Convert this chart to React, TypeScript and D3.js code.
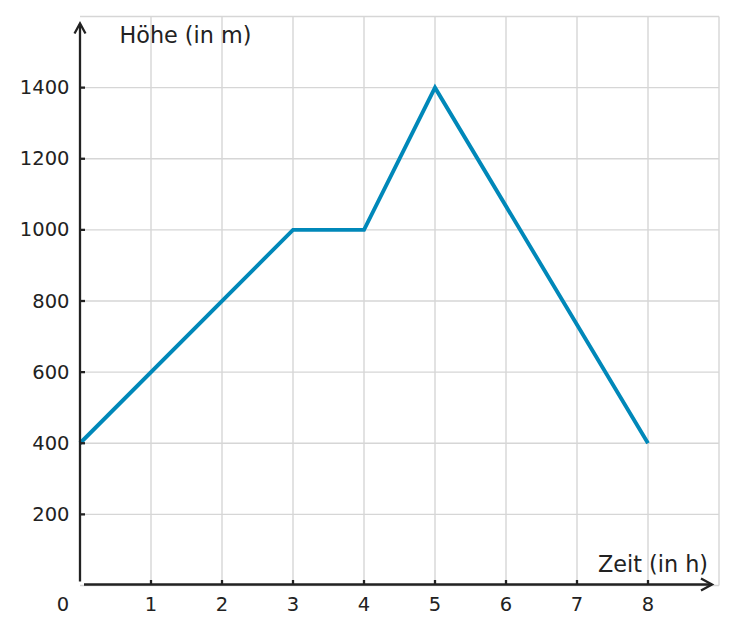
import { useEffect, useRef } from "react";
import * as d3 from "d3";

// Zeit (h) und Höhe (m) der Wanderung
const zeit = [0, 3, 4, 5, 8];
const hoehe = [400, 1000, 1000, 1400, 400];
const xTicks = [1, 2, 3, 4, 5, 6, 7, 8];
const yTicks = [200, 400, 600, 800, 1000, 1200, 1400];
const xGrid = [1, 2, 3, 4, 5, 6, 7, 8, 9];
const yGrid = [0, 200, 400, 600, 800, 1000, 1200, 1400, 1600];

const W = 736;
const H = 633;
const FONT = "DejaVu Sans, sans-serif";
const INK = "#222";

export default function App() {
  const ref = useRef<SVGSVGElement>(null);

  useEffect(() => {
    const svg = d3.select(ref.current);
    if (!svg.node()) return;
    svg.selectAll("*").remove();

    const x = d3.scaleLinear().domain([0, 9]).range([80, 719]);
    const y = d3.scaleLinear().domain([0, 1600]).range([585.5, 16.5]);

    // grid
    const grid = svg.append("g").attr("stroke", "#d6d6d6").attr("stroke-width", 1.4);
    grid
      .selectAll("line.v")
      .data(xGrid)
      .join("line")
      .attr("class", "v")
      .attr("x1", (d) => x(d))
      .attr("x2", (d) => x(d))
      .attr("y1", y(0))
      .attr("y2", y(1600));
    grid
      .selectAll("line.h")
      .data(yGrid)
      .join("line")
      .attr("class", "h")
      .attr("x1", x(0))
      .attr("x2", x(9))
      .attr("y1", (d) => y(d))
      .attr("y2", (d) => y(d));

    // line
    const pts = zeit.map((t, i) => [t, hoehe[i]] as [number, number]);
    svg
      .append("path")
      .datum(pts)
      .attr("fill", "none")
      .attr("stroke", "#0088b9")
      .attr("stroke-width", 3.9)
      .attr("stroke-linejoin", "miter")
      .attr(
        "d",
        d3
          .line<[number, number]>()
          .x((d) => x(d[0]))
          .y((d) => y(d[1])),
      );

    // axes
    const ax = svg.append("g").attr("stroke", INK).attr("stroke-width", 2.3).attr("fill", "none");
    const x0 = x(0);
    const y0 = y(0) - 1;
    ax.append("line").attr("x1", x0).attr("x2", x0).attr("y1", y0 - 3).attr("y2", 24);
    ax.append("path").attr("d", `M${x0 - 5.5},33.5L${x0},23.5L${x0 + 5.5},33.5`);
    ax.append("line").attr("x1", x0 + 4).attr("x2", 712).attr("y1", y0).attr("y2", y0);
    ax.append("path").attr("d", `M701,${y0 - 6}L712,${y0}L701,${y0 + 6}`);

    ax.selectAll("line.xt")
      .data(xTicks)
      .join("line")
      .attr("class", "xt")
      .attr("x1", (d) => x(d))
      .attr("x2", (d) => x(d))
      .attr("y1", y0)
      .attr("y2", y0 - 4.5);
    ax.selectAll("line.yt")
      .data(yTicks)
      .join("line")
      .attr("class", "yt")
      .attr("x1", x0)
      .attr("x2", x0 + 5)
      .attr("y1", (d) => y(d))
      .attr("y2", (d) => y(d));

    // labels
    const lbl = svg.append("g").attr("font-family", FONT).attr("fill", INK).attr("font-size", 19.5);
    lbl
      .selectAll("text.xl")
      .data(xTicks)
      .join("text")
      .attr("class", "xl")
      .attr("x", (d) => x(d))
      .attr("y", 610.5)
      .attr("text-anchor", "middle")
      .text((d) => d);
    lbl.append("text").attr("x", 63).attr("y", 610.5).attr("text-anchor", "middle").text("0");
    lbl
      .selectAll("text.yl")
      .data(yTicks)
      .join("text")
      .attr("class", "yl")
      .attr("x", 69.5)
      .attr("y", (d) => y(d) + 6.5)
      .attr("text-anchor", "end")
      .text((d) => d);

    svg
      .append("text")
      .attr("x", 119.5)
      .attr("y", 42.5)
      .attr("font-family", FONT)
      .attr("font-size", 22.3)
      .attr("fill", INK)
      .text("Höhe (in m)");
    svg
      .append("text")
      .attr("x", 708)
      .attr("y", 571.5)
      .attr("text-anchor", "end")
      .attr("font-family", FONT)
      .attr("font-size", 22.3)
      .attr("fill", INK)
      .text("Zeit (in h)");
  }, []);

  return (
    <div style={{ position: "absolute", left: 0, top: 0, width: W, height: H, background: "#fff" }}>
      <svg ref={ref} width={W} height={H} style={{ display: "block" }} />
    </div>
  );
}
